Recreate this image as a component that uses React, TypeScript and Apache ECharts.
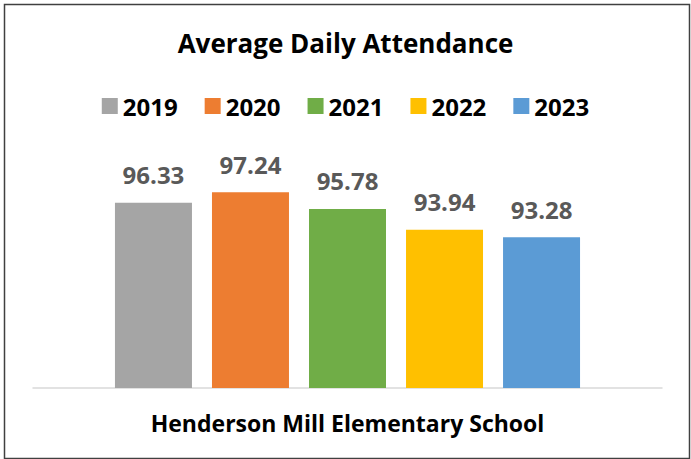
import React, { useEffect, useRef } from "react";
import * as echarts from "echarts";

const years = ["2019", "2020", "2021", "2022", "2023"];
const values = [96.33, 97.24, 95.78, 93.94, 93.28];
const colors = ["#A5A5A5", "#ED7D31", "#70AD47", "#FFC000", "#5B9BD5"];
const category = ["Henderson Mill Elementary School"];

const FONT = "'Open Sans', 'Noto Sans', sans-serif";

export default function App() {
  const ref = useRef<HTMLDivElement>(null);
  useEffect(() => {
    if (!ref.current) return;
    const chart = echarts.init(ref.current, null, { renderer: "svg" });
    chart.setOption({
      animation: false,
      backgroundColor: "#ffffff",
      title: {
        text: "Average Daily Attendance",
        left: "center",
        top: 25,
        textStyle: { fontFamily: FONT, fontWeight: "bold", fontSize: 26, color: "#000" },
      },
      legend: {
        top: 89,
        left: "center",
        itemWidth: 16,
        itemHeight: 16,
        itemGap: 27,
        icon: "rect",
        textStyle: { fontFamily: FONT, fontWeight: "bold", fontSize: 24, color: "#000" },
        data: years,
      },
      graphic: [
        {
          type: "rect",
          left: 2,
          top: 2,
          shape: { width: 685, height: 454 },
          style: { fill: "none", stroke: "#404040", lineWidth: 1.5 },
          silent: true,
        },
      ],
      grid: { left: 33, right: 29, top: 161, bottom: 71 },
      xAxis: {
        type: "category",
        data: category,
        axisLine: { lineStyle: { color: "#D9D9D9", width: 1.5 } },
        axisTick: { show: false },
        axisLabel: {
          margin: 23,
          fontFamily: FONT,
          fontWeight: "bold",
          fontSize: 23,
          color: "#000",
        },
      },
      yAxis: {
        type: "value",
        min: 80,
        max: 100,
        show: false,
        splitLine: { show: false },
      },
      series: years.map((y, i) => ({
        name: y,
        type: "bar",
        barWidth: 77,
        barGap: "26%",
        itemStyle: { color: colors[i] },
        label: {
          show: true,
          position: "top",
          distance: 16,
          fontFamily: FONT,
          fontWeight: "bold",
          fontSize: 24,
          color: "#595959",
          formatter: (p: any) => p.value.toFixed(2),
        },
        data: [values[i]],
      })),
    });
    return () => chart.dispose();
  }, []);
  return (
    <div
      ref={ref}
      style={{ position: "fixed", left: 0, top: 0, width: 691, height: 459 }}
    />
  );
}
